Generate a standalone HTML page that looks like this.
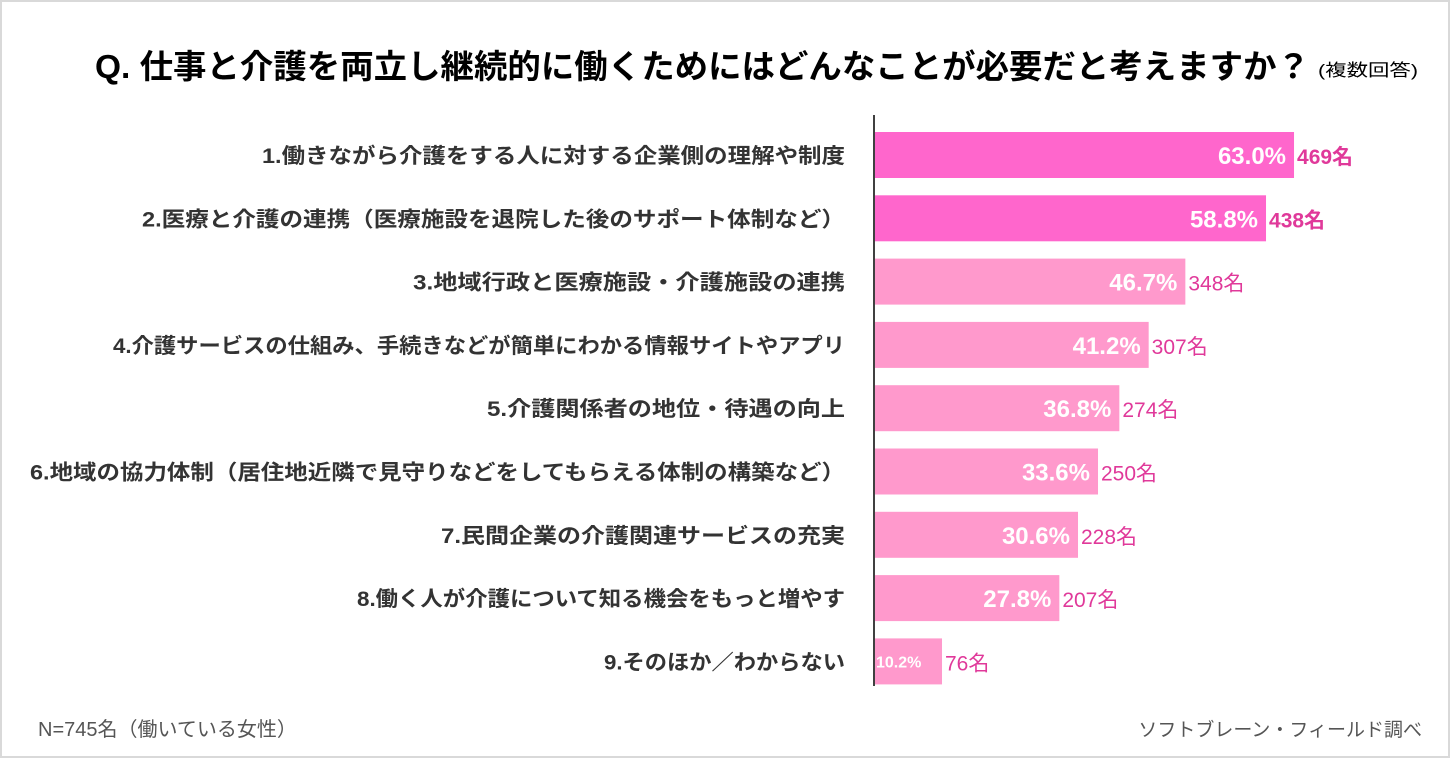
<!DOCTYPE html>
<html><head><meta charset="utf-8"><style>
html,body{margin:0;padding:0;background:#fff}
svg{display:block;font-family:"Liberation Sans","Noto Sans CJK JP",sans-serif}
</style></head><body>
<svg id="chart" width="1450" height="758" viewBox="0 0 1450 758">
<rect x="1" y="1" width="1448" height="756" fill="#fff" stroke="#d9d9d9" stroke-width="2"/>
<text x="95" y="78" font-size="33" font-weight="bold" fill="#000" textLength="1215" lengthAdjust="spacingAndGlyphs">Q.  仕事と介護を両立し継続的に働くためにはどんなことが必要だと考えますか？</text>
<text x="1318" y="76" font-size="17" fill="#000" textLength="100" lengthAdjust="spacingAndGlyphs">(複数回答)</text>
<g id="bars"></g>
<line x1="874" y1="115" x2="874" y2="686" stroke="#404040" stroke-width="2"/>
<text x="38" y="736" font-size="20" fill="#555">N=745名（働いている女性）</text>
<text x="1422" y="736" font-size="19" fill="#555" text-anchor="end">ソフトブレーン・フィールド調べ</text>
</svg>
<script>
const categories=["1.働きながら介護をする人に対する企業側の理解や制度","2.医療と介護の連携（医療施設を退院した後のサポート体制など）","3.地域行政と医療施設・介護施設の連携","4.介護サービスの仕組み、手続きなどが簡単にわかる情報サイトやアプリ","5.介護関係者の地位・待遇の向上","6.地域の協力体制（居住地近隣で見守りなどをしてもらえる体制の構築など）","7.民間企業の介護関連サービスの充実","8.働く人が介護について知る機会をもっと増やす","9.そのほか／わからない"];
const percents=[63.0,58.8,46.7,41.2,36.8,33.6,30.6,27.8,10.2];
const counts=[469,438,348,307,274,250,228,207,76];
const labelStarts=[262,142,413,113,487,30,441,357,604];
const NS="http://www.w3.org/2000/svg";
const x0=874,scale=6.667,top0=155,step=63.3,bh=46;
const xs=v=>v*scale, ys=i=>top0+i*step;
const g=document.getElementById('bars');
function mk(tag,attrs){const e=document.createElementNS(NS,tag);for(const k in attrs)e.setAttribute(k,attrs[k]);g.appendChild(e);return e;}
categories.forEach((c,i)=>{
  const y=ys(i),w=xs(percents[i]),hi=i<2;
  const lab=mk('text',{x:845,y:y+8,'font-size':21,'font-weight':'bold',fill:'#333','text-anchor':'end',textLength:845-labelStarts[i],lengthAdjust:'spacingAndGlyphs'});
  lab.textContent=c;
  
  
  const r=mk('rect',{x:x0,y:y-bh/2,width:w,height:bh,fill:hi?'#ff66cc':'#ff99cc'});
  
  
  const small=percents[i]<15;
  const p=mk('text',{x:small?x0+2:x0+w-8,y:y+(small?6:9),'font-size':small?16:24,'font-weight':'bold',fill:'#fff','text-anchor':small?'start':'end'});
  p.textContent=percents[i].toFixed(1)+'%';
  
  
  const n=mk('text',{x:x0+w+3,y:y+9,'font-size':21,'font-weight':hi?'bold':'normal',fill:'#e0399a'});
  n.textContent=counts[i]+'名';
  
  
});
</script>
</body></html>
